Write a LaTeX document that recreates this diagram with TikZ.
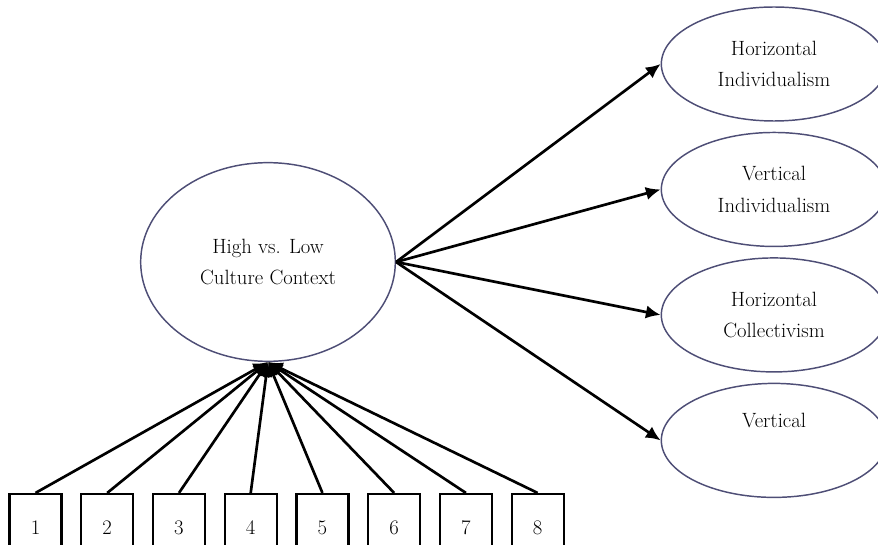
\documentclass[tikz,border=0pt]{standalone}
\usetikzlibrary{arrows.meta,shapes,positioning}

\definecolor{rim}{RGB}{78,78,118}

\tikzset{
  factor/.style={ellipse,draw=rim,line width=1.1pt,align=center,inner sep=0pt,
                 font=\fontsize{15.5}{23.5}\selectfont},
  item/.style={rectangle,draw,line width=1.6pt,minimum width=39pt,
               minimum height=51pt,inner sep=0pt,font=\fontsize{15.5}{18}\selectfont}
}

\begin{document}
\begin{tikzpicture}[x=0.75pt,y=-0.75pt,->,>={Latex[length=11pt,width=10pt]},
                    line width=2pt]

  \useasboundingbox (0,0) rectangle (878,545);
  \clip (0,0) rectangle (878,545);

  % latent factor
  \node[factor,minimum width=191pt,minimum height=149pt] (ctx) at (268,262)
       {High vs. Low\\Culture Context};

  % outcomes
  \node[factor,minimum width=169pt,minimum height=85.5pt] (hi) at (774,64)
       {Horizontal\\Individualism};
  \node[factor,minimum width=169pt,minimum height=85.5pt] (vi) [below=7.5pt of hi]
       {Vertical\\Individualism};
  \node[factor,minimum width=169pt,minimum height=85.5pt] (hc) [below=7.5pt of vi]
       {Horizontal\\Collectivism};
  \node[factor,minimum width=169pt,minimum height=85.5pt] (vc) [below=7.5pt of hc]
       {Vertical\\\strut};

  % indicators
  \node[item] (b1) at (35.5,528) {1};
  \foreach \i [remember=\i as \prev (initially 1)] in {2,...,8}
    \node[item,right=13.2pt of b\prev] (b\i) {\i};

  \foreach \i in {1,...,8}
    \draw (b\i.north) -- (ctx.south);

  \path (ctx.east) edge (hi.west)
        (ctx.east) edge (vi.west)
        (ctx.east) edge (hc.west)
        (ctx.east) edge (vc.west);
\end{tikzpicture}
\end{document}
